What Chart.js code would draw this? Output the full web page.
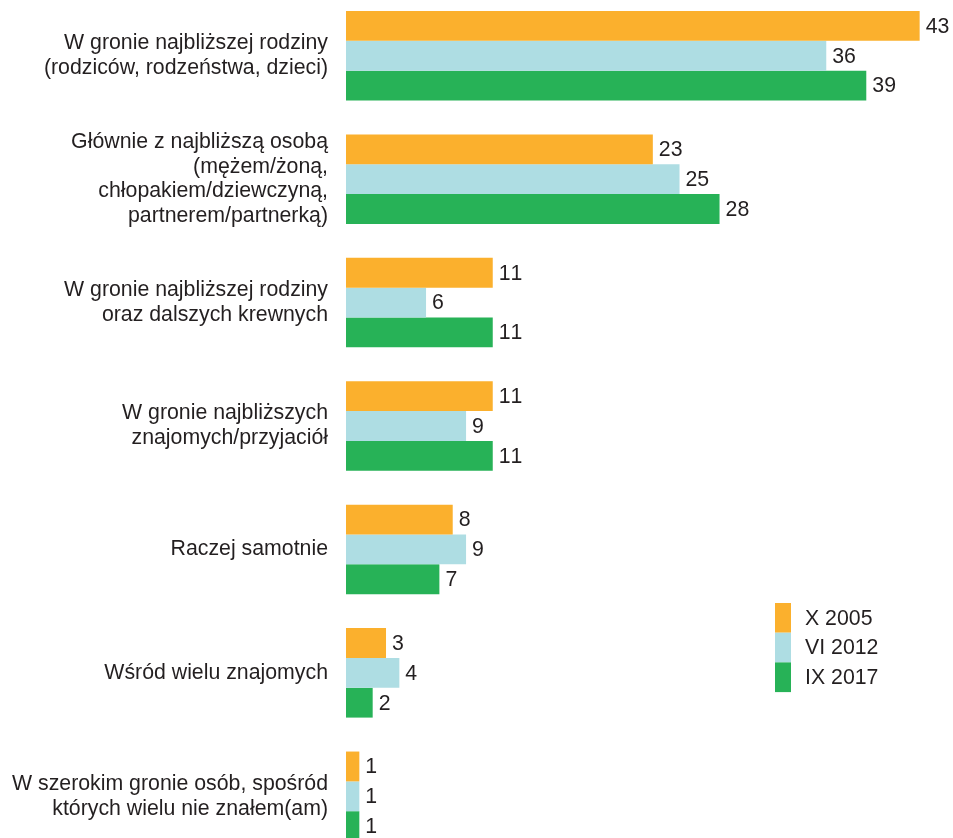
<!DOCTYPE html>
<html>
<head>
<meta charset="utf-8">
<script src="https://cdn.jsdelivr.net/npm/chart.js@4"></script>
<style>
  html, body { margin: 0; padding: 0; background: #fff; overflow: hidden; width: 953px; height: 838px; }
  #wrap { position: absolute; left: 0; top: -6px; width: 953px; height: 864px; }
</style>
</head>
<body>
<div id="wrap"><canvas id="c"></canvas></div>
<script>
// Answer categories (multi-line labels)
const categories = [
  ['W gronie najbliższej rodziny', '(rodziców, rodzeństwa, dzieci)'],
  ['Głównie z najbliższą osobą', '(mężem/żoną,', 'chłopakiem/dziewczyną,', 'partnerem/partnerką)'],
  ['W gronie najbliższej rodziny', 'oraz dalszych krewnych'],
  ['W gronie najbliższych', 'znajomych/przyjaciół'],
  ['Raczej samotnie'],
  ['Wśród wielu znajomych'],
  ['W szerokim gronie osób, spośród', 'których wielu nie znałem(am)']
];

// Survey waves
const seriesNames = ['X 2005', 'VI 2012', 'IX 2017'];

// Percentages per wave
const values2005 = [43, 23, 11, 11, 8, 3, 1];
const values2012 = [36, 25, 6, 9, 9, 4, 1];
const values2017 = [39, 28, 11, 11, 7, 2, 1];

const COLORS = ['#fbb02d', '#aedde3', '#27b257'];
const TEXT = '#231f20';
const FONT = '"Liberation Sans", Arial, Helvetica, sans-serif';
const SIZE = 21.3;

// Value printed just past the end of each bar
const valueLabels = {
  id: 'valueLabels',
  afterDatasetsDraw(chart) {
    const ctx = chart.ctx;
    ctx.save();
    ctx.font = SIZE + 'px ' + FONT;
    ctx.fontKerning = 'none';
    ctx.fillStyle = TEXT;
    ctx.textAlign = 'left';
    ctx.textBaseline = 'middle';
    chart.data.datasets.forEach((ds, i) => {
      chart.getDatasetMeta(i).data.forEach((bar, j) => {
        ctx.fillText(String(ds.data[j]), bar.x + 6, bar.y + 1);
      });
    });
    ctx.restore();
  }
};

// Stacked colour-strip legend on the right
const sideLegend = {
  id: 'sideLegend',
  afterDraw(chart) {
    const ctx = chart.ctx;
    const x = 775, top = 609, h = 29.7, w = 16;
    ctx.save();
    ctx.font = SIZE + 'px ' + FONT;
    ctx.textAlign = 'left';
    ctx.textBaseline = 'middle';
    chart.data.datasets.forEach((ds, i) => {
      ctx.fillStyle = ds.backgroundColor;
      ctx.fillRect(x, top + i * h, w, h);
      ctx.fillStyle = TEXT;
      ctx.fillText(ds.label, x + 30, top + i * h + h / 2 + 1);
    });
    ctx.restore();
  }
};

new Chart(document.getElementById('c'), {
  type: 'bar',
  data: {
    labels: categories,
    datasets: [
      { label: seriesNames[0], data: values2005, backgroundColor: COLORS[0] },
      { label: seriesNames[1], data: values2012, backgroundColor: COLORS[1] },
      { label: seriesNames[2], data: values2017, backgroundColor: COLORS[2] }
    ]
  },
  options: {
    indexAxis: 'y',
    responsive: true,
    maintainAspectRatio: false,
    animation: false,
    layout: { padding: 0 },
    datasets: {
      bar: { categoryPercentage: 0.725, barPercentage: 1, borderWidth: 0 }
    },
    plugins: {
      legend: { display: false },
      tooltip: { enabled: false }
    },
    scales: {
      x: { display: false, min: 0, max: 45.5 },
      y: {
        grid: { display: false, drawTicks: false },
        border: { display: false },
        ticks: { padding: 18, color: TEXT, font: { family: FONT, size: SIZE, lineHeight: 1.17 } },
        afterFit(scale) {
          scale.width = 346;
          scale.paddingTop = 0;
          scale.paddingBottom = 0;
        }
      }
    }
  },
  plugins: [valueLabels, sideLegend]
});
</script>
</body>
</html>
